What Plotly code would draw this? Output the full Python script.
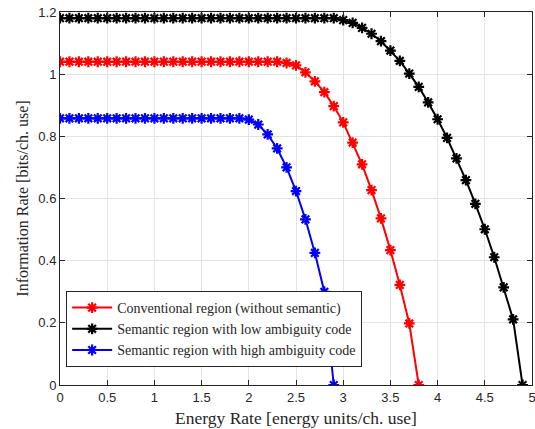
import numpy as np
import plotly.graph_objects as go

# Energy rate grid (0.1 steps)
x_conv = [round(0.1 * i, 1) for i in range(0, 39)]          # 0 .. 3.8
x_low = [round(0.1 * i, 1) for i in range(0, 50)]           # 0 .. 4.9
x_high = [round(0.1 * i, 1) for i in range(0, 30)]          # 0 .. 2.9

# Information rates
y_conv = [1.04] * 24 + [1.036, 1.028, 1.006, 0.977, 0.942, 0.897, 0.845, 0.780,
                        0.710, 0.627, 0.536, 0.434, 0.322, 0.198, 0.0]
y_low = [1.18] * 30 + [1.174, 1.165, 1.149, 1.130, 1.106, 1.076, 1.043, 1.002,
                       0.959, 0.909, 0.855, 0.795, 0.729, 0.659, 0.583, 0.501,
                       0.411, 0.314, 0.211, 0.0]
y_high = [0.858] * 20 + [0.854, 0.838, 0.806, 0.761, 0.700, 0.624, 0.533,
                         0.425, 0.300, 0.0]

names = ["Conventional region (without semantic)",
         "Semantic region with low ambiguity code",
         "Semantic region with high ambiguity code"]
colors = ["#ff0000", "#000000", "#0000ff"]
xs = [x_conv, x_low, x_high]
ys = [y_conv, y_low, y_high]

x_ticks = [0, 0.5, 1, 1.5, 2, 2.5, 3, 3.5, 4, 4.5, 5]
y_ticks = [0, 0.2, 0.4, 0.6, 0.8, 1, 1.2]

fig = go.Figure()
for x, y, n, c in zip(xs, ys, names, colors):
    fig.add_trace(go.Scatter(
        x=x, y=y, name=n, mode="lines+markers",
        line=dict(color=c, width=2),
        marker=dict(symbol="asterisk", size=9, color=c,
                    line=dict(color=c, width=2.2)),
    ))

serif = "Liberation Serif"
sans = "Liberation Sans"
axcol = "#262626"
gridcol = "#e3e3e3"

fig.update_layout(
    width=535, height=429,
    margin=dict(l=60, r=3, t=12, b=44, autoexpand=False),
    paper_bgcolor="white", plot_bgcolor="white",
    showlegend=True,
    legend=dict(x=0.013, y=0.252, xanchor="left", yanchor="top",
                bgcolor="white", bordercolor="#262626", borderwidth=1,
                font=dict(family=serif, size=14, color="#262626"),
                tracegroupgap=0, itemwidth=40),
)
fig.update_xaxes(
    range=[0, 5], tickvals=x_ticks, ticktext=[f"{v:g}" for v in x_ticks],
    showgrid=True, gridcolor=gridcol, gridwidth=1,
    showline=True, linecolor=axcol, linewidth=1, mirror="allticks",
    ticks="inside", ticklen=5, tickcolor=axcol,
    tickfont=dict(family=sans, size=13, color=axcol),
    ticklabeloverflow="allow", automargin=False,
    zeroline=False,
    title=dict(text="Energy Rate [energy units/ch. use]",
               font=dict(family=serif, size=17.5, color=axcol), standoff=8),
)
fig.update_yaxes(
    range=[0, 1.2], tickvals=y_ticks, ticktext=[f"{v:g}" for v in y_ticks],
    showgrid=True, gridcolor=gridcol, gridwidth=1,
    showline=True, linecolor=axcol, linewidth=1, mirror="allticks",
    ticks="inside", ticklen=5, tickcolor=axcol,
    tickfont=dict(family=sans, size=13, color=axcol),
    ticklabeloverflow="allow", automargin=False,
    zeroline=False,
    title=dict(text="Information Rate [bits/ch. use]",
               font=dict(family=serif, size=16, color=axcol), standoff=5),
)

# remove the browser's default page margin so the 535x429 figure fits the window
fig.write_html(
    "out.html",
    config={"displayModeBar": False},
    post_script="document.body.style.margin='0';document.body.style.overflow='hidden';",
)
